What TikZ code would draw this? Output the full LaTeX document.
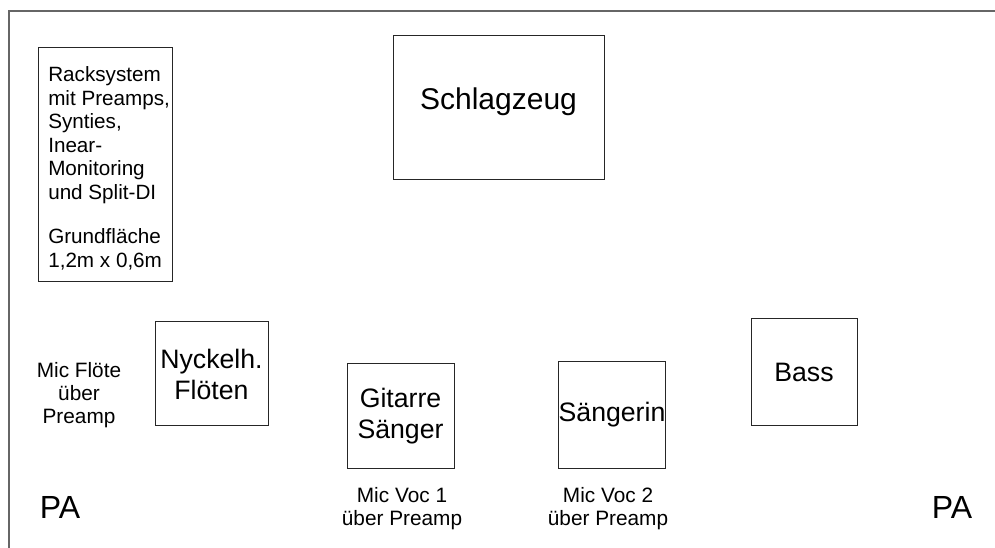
\documentclass[tikz,border=0pt]{standalone}
\usepackage{fontspec}
\setmainfont{Liberation Sans}
\begin{document}
\begin{tikzpicture}[x=0.75pt,y=-0.75pt,
  frame/.style={draw=black!60,line width=0.9pt},
  box/.style={draw=black!85,line width=0.75pt,inner sep=0pt,align=center,
    font=\fontsize{20}{23.25}\selectfont},
  smalltxt/.style={inner sep=0pt,align=center,font=\fontsize{15.6}{17.4}\selectfont},
  racktxtstyle/.style={inner sep=0pt,align=left,font=\fontsize{15.5}{17.6}\selectfont},
  bigtxt/.style={inner sep=0pt,font=\fontsize{22.5}{26}\selectfont},
  patxt/.style={inner sep=0pt,font=\fontsize{24}{28}\selectfont}]
\useasboundingbox (0,0) rectangle (995,548);
% outer stage frame (clipped at right and bottom)
\draw[frame] (9,548) -- (9,11) -- (995,11);
% rack
\node[box,minimum width=100.5pt,minimum height=175.5pt] (rack) at (105,165) {};
\node[racktxtstyle,anchor=north west] (racktxt) at (48,66.5)
  {Racksystem\\mit Preamps,\\Synties,\\Inear-\\Monitoring\\und Split-DI\\[16pt]Grundfläche\\1,2m x 0,6m};
% drums
\node[box,minimum width=158.25pt,minimum height=108pt] (drums) at (498.5,108) {};
\node[bigtxt] (drumstxt) at (498.5,102) {Schlagzeug};
% players
\node[box,minimum width=84.75pt,minimum height=78pt] (floete) at (211.5,374) {Nyckelh.\\Flöten};
\node[box,minimum width=80.25pt,minimum height=78pt] (gitarre) at (400.5,416) {Gitarre\\Sänger};
\node[box,minimum width=79.5pt,minimum height=79.5pt] (saengerin) at (612,415) {Sängerin};
\node[box,minimum width=79.5pt,minimum height=80.25pt] (bass) at (804,372.5) {Bass};
% mic labels
\node[smalltxt] (micfl) at (79,395) {Mic Flöte\\über\\Preamp};
\node[smalltxt] (micv1) at (402,508.5) {Mic Voc 1\\über Preamp};
\node[smalltxt] (micv2) at (608,508.5) {Mic Voc 2\\über Preamp};
% PA
\node[patxt] (paleft) at (60,507.5) {PA};
\node[patxt] (paright) at (952,507.5) {PA};
\end{tikzpicture}
\end{document}
